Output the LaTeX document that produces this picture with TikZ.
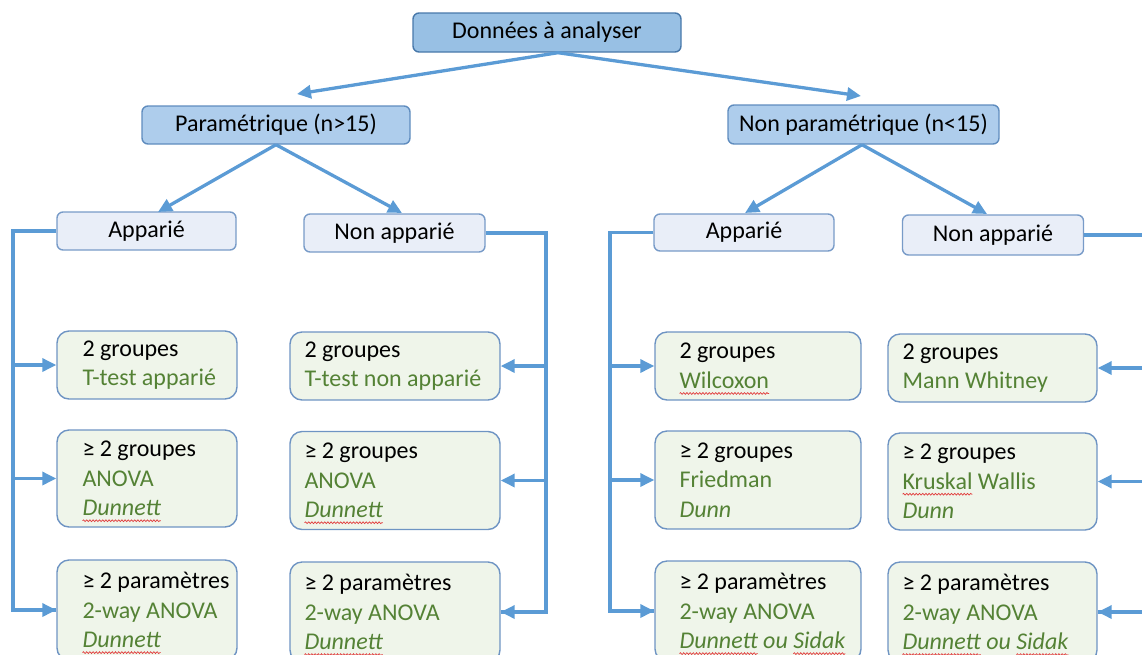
\documentclass[tikz,border=0pt]{standalone}
\usepackage{fontspec}
\setmainfont{Carlito}
\usetikzlibrary{arrows.meta,decorations.pathmorphing}
\definecolor{linec}{RGB}{91,155,213}
\definecolor{topfill}{RGB}{152,192,228}
\definecolor{topdraw}{RGB}{72,120,170}
\definecolor{midfill}{RGB}{174,205,236}
\definecolor{middraw}{RGB}{95,140,190}
\definecolor{lowfill}{RGB}{233,238,248}
\definecolor{lowdraw}{RGB}{120,155,200}
\definecolor{grnfill}{RGB}{239,245,234}
\definecolor{grndraw}{RGB}{110,148,195}
\definecolor{tg}{RGB}{84,130,53}
\definecolor{squig}{RGB}{225,60,60}
\newsavebox{\sqbox}
\newcommand\sq[1]{\sbox{\sqbox}{#1}\rlap{\tikz[baseline=0pt,x=1pt,y=1pt]{\useasboundingbox (0,0);\draw[draw=squig,line width=0.7pt,decorate,decoration={snake,amplitude=0.9pt,segment length=3.2pt}] (0,-5) -- (\the\wd\sqbox,-5);}}#1}
\begin{document}
\begin{tikzpicture}[x=1pt,y=-1pt,
  font=\fontsize{24}{29.5}\selectfont,
  conn/.style={draw=linec, line width=3.3pt},
  arr/.style={conn, -{Triangle[length=14pt,width=13pt]}},
  hbox/.style={rounded corners=6pt, line width=1.4pt, inner sep=0pt, align=center},
  lvl0/.style={hbox, draw=topdraw, fill=topfill},
  lvl1/.style={hbox, draw=middraw, fill=midfill},
  lvl2/.style={hbox, draw=lowdraw, fill=lowfill},
  gbox/.style={draw=grndraw, fill=grnfill, rounded corners=12pt, line width=1.4pt, inner sep=0pt},
  txt/.style={inner sep=0pt, align=left, anchor=west}
]
\useasboundingbox (0,0) rectangle (1142,654);
\clip (0,0) rectangle (1142,654);

% header boxes
\node[lvl0, minimum width=268pt, minimum height=39pt] (top) at (547,32.5) {Données à analyser};
\node[lvl1, minimum width=268pt, minimum height=38pt] (para) at (276,125) {Paramétrique (n>15)};
\node[lvl1, minimum width=271pt, minimum height=39pt] (npara) at (863.5,124.5) {Non paramétrique (n<15)};
\node[lvl2, minimum width=179pt, minimum height=38pt] (app1) at (146.5,231) {Apparié};
\node[lvl2, minimum width=181pt, minimum height=38pt] (napp1) at (394.5,233) {Non apparié};
\node[lvl2, minimum width=180pt, minimum height=37pt] (app2) at (744,232.5) {Apparié};
\node[lvl2, minimum width=181pt, minimum height=40pt] (napp2) at (993,235) {Non apparié};

% green boxes
\node[gbox, minimum width=180pt, minimum height=68pt] (g11) at (147,365) {};
\node[gbox, minimum width=180pt, minimum height=97pt] (g12) at (147,478.5) {};
\node[gbox, minimum width=180pt, minimum height=100pt] (g13) at (147,610) {};
\node[gbox, minimum width=210pt, minimum height=68pt] (g21) at (395,366) {};
\node[gbox, minimum width=210pt, minimum height=98pt] (g22) at (395,480.5) {};
\node[gbox, minimum width=210pt, minimum height=100pt] (g23) at (395,612) {};
\node[gbox, minimum width=206pt, minimum height=68pt] (g31) at (758,366) {};
\node[gbox, minimum width=206pt, minimum height=98pt] (g32) at (758,480) {};
\node[gbox, minimum width=206pt, minimum height=100pt] (g33) at (758,611) {};
\node[gbox, minimum width=209pt, minimum height=68pt] (g41) at (992.5,368) {};
\node[gbox, minimum width=209pt, minimum height=97pt] (g42) at (992.5,481.5) {};
\node[gbox, minimum width=209pt, minimum height=100pt] (g43) at (992.5,612) {};

% texts
\node[txt] (t11) at ([xshift=26pt]g11.west) {2 groupes\\\textcolor{tg}{T-test apparié}};
\node[txt] (t12) at ([xshift=26pt]g12.west) {≥ 2 groupes\\\textcolor{tg}{ANOVA}\\\textcolor{tg}{\textit{\sq{Dunnett}}}};
\node[txt] (t13) at ([xshift=26pt]g13.west) {≥ 2 paramètres\\\textcolor{tg}{2-way ANOVA}\\\textcolor{tg}{\textit{\sq{Dunnett}}}};
\node[txt] (t21) at ([xshift=15pt]g21.west) {2 groupes\\\textcolor{tg}{T-test non apparié}};
\node[txt] (t22) at ([xshift=15pt]g22.west) {≥ 2 groupes\\\textcolor{tg}{ANOVA}\\\textcolor{tg}{\textit{\sq{Dunnett}}}};
\node[txt] (t23) at ([xshift=15pt]g23.west) {≥ 2 paramètres\\\textcolor{tg}{2-way ANOVA}\\\textcolor{tg}{\textit{\sq{Dunnett}}}};
\node[txt] (t31) at ([xshift=25pt]g31.west) {2 groupes\\\textcolor{tg}{\sq{Wilcoxon}}};
\node[txt] (t32) at ([xshift=25pt]g32.west) {≥ 2 groupes\\\textcolor{tg}{Friedman}\\\textcolor{tg}{\textit{Dunn}}};
\node[txt] (t33) at ([xshift=25pt]g33.west) {≥ 2 paramètres\\\textcolor{tg}{2-way ANOVA}\\\textcolor{tg}{\textit{\sq{Dunnett} ou \sq{Sidak}}}};
\node[txt] (t41) at ([xshift=15pt]g41.west) {2 groupes\\\textcolor{tg}{Mann Whitney}};
\node[txt] (t42) at ([xshift=15pt]g42.west) {≥ 2 groupes\\\textcolor{tg}{\sq{Kruskal} Wallis}\\\textcolor{tg}{\textit{Dunn}}};
\node[txt] (t43) at ([xshift=15pt]g43.west) {≥ 2 paramètres\\\textcolor{tg}{2-way ANOVA}\\\textcolor{tg}{\textit{\sq{Dunnett} ou \sq{Sidak}}}};

% tree arrows
\coordinate (pa) at (297,94);
\coordinate (npa) at (861,96);
\draw[arr] ([xshift=11pt]top.south) -- (pa);
\draw[arr] ([xshift=11pt]top.south) -- (npa);
\coordinate (a1) at (158,212);
\coordinate (n1) at (402,213);
\draw[arr] (para.south) -- (a1);
\draw[arr] (para.south) -- (n1);
\coordinate (a2) at (745,213);
\coordinate (n2) at (987,214);
\draw[arr] ([xshift=-1.5pt]npara.south) -- (a2);
\draw[arr] ([xshift=-1.5pt]npara.south) -- (n2);

% bus lines
\coordinate (L1) at (13,231);
\draw[conn] (app1.west) -- (L1) |- (g13.west);
\draw[arr] (g11.west -| L1) -- (g11.west);
\draw[arr] (g12.west -| L1) -- (g12.west);
\draw[arr] (g13.west -| L1) -- (g13.west);

\coordinate (L2) at (546,233);
\draw[conn] (napp1.east) -- (L2) |- (g23.east);
\draw[arr] (g21.east -| L2) -- (g21.east);
\draw[arr] (g22.east -| L2) -- (g22.east);
\draw[arr] (g23.east -| L2) -- (g23.east);

\coordinate (L3) at (610,232.5);
\draw[conn] (app2.west) -- (L3) |- (g33.west);
\draw[arr] (g31.west -| L3) -- (g31.west);
\draw[arr] (g32.west -| L3) -- (g32.west);
\draw[arr] (g33.west -| L3) -- (g33.west);

\coordinate (L4) at (1160,235);
\draw[conn] (napp2.east) -- (L4) |- (g43.east);
\draw[arr] (g41.east -| L4) -- (g41.east);
\draw[arr] (g42.east -| L4) -- (g42.east);
\draw[arr] (g43.east -| L4) -- (g43.east);
\end{tikzpicture}
\end{document}
